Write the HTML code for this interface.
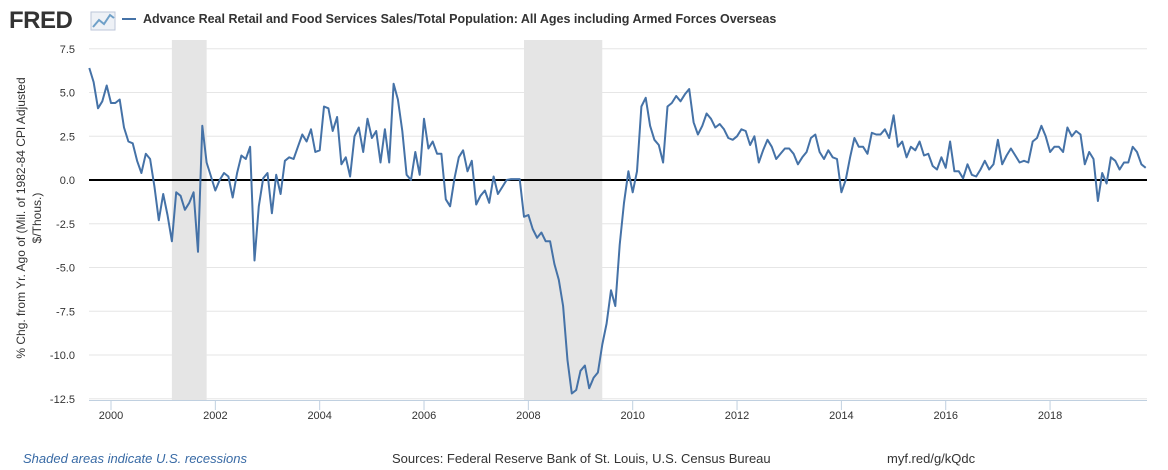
<!DOCTYPE html>
<html><head><meta charset="utf-8"><style>
body{margin:0;background:#fff;font-family:"Liberation Sans",sans-serif;}
#wrap{position:relative;width:1168px;height:470px;overflow:hidden;}
</style></head><body>
<div id="wrap">
<svg id="svg" width="1168" height="470" xmlns="http://www.w3.org/2000/svg" font-family="Liberation Sans, sans-serif">
 <g>
  <text x="9" y="28" font-size="24" font-weight="bold" fill="#333" letter-spacing="-0.5">FRED</text>
  <rect x="91" y="12" width="24" height="18" fill="#eef1f6" stroke="#bcc6d8"/>
  <polyline points="93,27 99,20 104,24 110,15 114,18" fill="none" stroke="#6fa0c8" stroke-width="2"/>
 </g>
 <g>
  <line x1="122" y1="19" x2="136" y2="19" stroke="#4572a7" stroke-width="2"/>
  <text x="143" y="23" font-size="12.5" font-weight="bold" fill="#333">Advance Real Retail and Food Services Sales/Total Population: All Ages including Armed Forces Overseas</text>
 </g>
 <g id="grid"></g>
 <g id="bands"></g>
 <g id="axes"></g>
 <g id="series"></g>
 <text transform="translate(26,218) rotate(-90)" font-size="12" fill="#333" text-anchor="middle"><tspan x="0" dy="-1">% Chg. from Yr. Ago of (Mil. of 1982-84 CPI Adjusted</tspan><tspan x="0" dy="16">$/Thous.)</tspan></text>
 <text x="23" y="463" font-size="13" font-style="italic" fill="#386aa5">Shaded areas indicate U.S. recessions</text>
 <text x="392" y="463" font-size="13" fill="#333">Sources: Federal Reserve Bank of St. Louis, U.S. Census Bureau</text>
 <text x="887" y="463" font-size="13" fill="#333">myf.red/g/kQdc</text>
</svg>
</div>
<script>
const startYear=1999, startMonth=7; // Aug 1999 (0-based)
const values=[6.4,5.6,4.1,4.5,5.4,
4.4,4.4,4.6,3.0,2.2,2.1,1.1,0.4,1.5,1.2,-0.4,-2.3,
-0.8,-2.0,-3.5,-0.7,-0.9,-1.7,-1.3,-0.7,-4.1,3.1,1.0,0.2,
-0.6,0.0,0.4,0.2,-1.0,0.4,1.4,1.2,1.9,-4.6,-1.5,0.1,
0.4,-1.9,0.3,-0.8,1.1,1.3,1.2,1.9,2.6,2.2,2.9,1.6,
1.7,4.2,4.1,2.8,3.6,0.9,1.3,0.2,2.5,3.0,1.6,3.5,
2.4,2.8,1.0,2.9,1.0,5.5,4.6,2.8,0.3,0.0,1.6,0.3,
3.5,1.8,2.2,1.5,1.5,-1.1,-1.5,0.1,1.3,1.7,0.5,1.1,
-1.4,-0.9,-0.6,-1.3,0.2,-0.8,-0.4,0.0,0.05,0.05,0.05,-2.1,
-2.0,-2.8,-3.3,-3.0,-3.5,-3.5,-4.8,-5.7,-7.2,-10.3,-12.2,-12.0,
-10.9,-10.6,-11.9,-11.3,-11.0,-9.4,-8.2,-6.3,-7.2,-3.7,-1.3,0.5,
-0.7,0.5,4.2,4.7,3.1,2.3,2.0,1.0,4.2,4.4,4.8,4.5,
4.9,5.2,3.3,2.6,3.1,3.8,3.5,3.0,3.2,2.9,2.4,2.3,
2.5,2.9,2.8,2.0,2.5,1.0,1.7,2.3,1.9,1.2,1.5,1.8,
1.8,1.5,0.9,1.3,1.6,2.4,2.6,1.6,1.2,1.7,1.3,1.2,
-0.7,0.0,1.3,2.4,1.9,1.9,1.5,2.7,2.6,2.6,2.9,2.4,
3.7,1.9,2.2,1.3,1.9,1.7,2.2,1.4,1.5,0.8,0.6,1.3,
0.7,2.2,0.5,0.5,0.1,0.9,0.3,0.2,0.6,1.1,0.6,0.9,
2.3,0.9,1.4,1.8,1.4,1.0,1.1,1.0,2.2,2.4,3.1,2.5,
1.6,1.9,1.9,1.6,3.0,2.5,2.8,2.6,0.9,1.6,1.2,-1.2,
0.4,-0.2,1.3,1.1,0.6,1.0,1.0,1.9,1.6,0.9,0.7];
const yTicks=[7.5,5.0,2.5,0.0,-2.5,-5.0,-7.5,-10.0,-12.5];
const yTickLabels=["7.5","5.0","2.5","0.0","-2.5","-5.0","-7.5","-10.0","-12.5"];
const xTicks=[2000,2002,2004,2006,2008,2010,2012,2014,2016,2018];
const recessionStarts=[2001+2/12,2007+11/12];
const recessionEnds=[2001+10/12,2009+5/12];
const NS='http://www.w3.org/2000/svg';
const X0=89,X1=1147,Y0=40,Y1=400;
const xs=t=>111+(t-2000)*52.17;
const ys=v=>180-v*17.5;
function mk(tag,attrs,parent){const e=document.createElementNS(NS,tag);for(const k in attrs)e.setAttribute(k,attrs[k]);document.getElementById(parent).appendChild(e);return e;}
yTicks.forEach((v,i)=>{
 const g=mk('line',{x1:X0,x2:X1,y1:ys(v),y2:ys(v),stroke:'#e6e6e6','stroke-width':1},'grid');
 
 
 const t=mk('text',{x:75,y:ys(v)+4,'font-size':11,fill:'#333','text-anchor':'end'},'axes');
 t.textContent=yTickLabels[i];
 
 
});
recessionStarts.forEach((s,i)=>{
 const r=mk('rect',{x:xs(s),y:Y0,width:xs(recessionEnds[i])-xs(s),height:Y1-Y0,fill:'#e5e5e5'},'bands');
 
 
});
const zl=mk('line',{x1:X0,x2:X1,y1:ys(0),y2:ys(0),stroke:'#000','stroke-width':2},'axes');


const xa=mk('line',{x1:X0,x2:X1,y1:Y1+0.5,y2:Y1+0.5,stroke:'#c0d0e0','stroke-width':1},'axes');


xTicks.forEach(yr=>{
 const l=mk('line',{x1:xs(yr),x2:xs(yr),y1:Y1,y2:Y1+10,stroke:'#c0d0e0'},'axes');
 
 
 const t=mk('text',{x:xs(yr),y:Y1+19,'font-size':11,fill:'#333','text-anchor':'middle'},'axes');
 t.textContent=yr;
 
 
});
const pts=values.map((v,i)=>xs(startYear+(startMonth+i)/12).toFixed(1)+','+ys(v).toFixed(1)).join(' ');
const pl=mk('polyline',{points:pts,fill:'none',stroke:'#4572a7','stroke-width':2,'stroke-linejoin':'round'},'series');


</script>
</body></html>
